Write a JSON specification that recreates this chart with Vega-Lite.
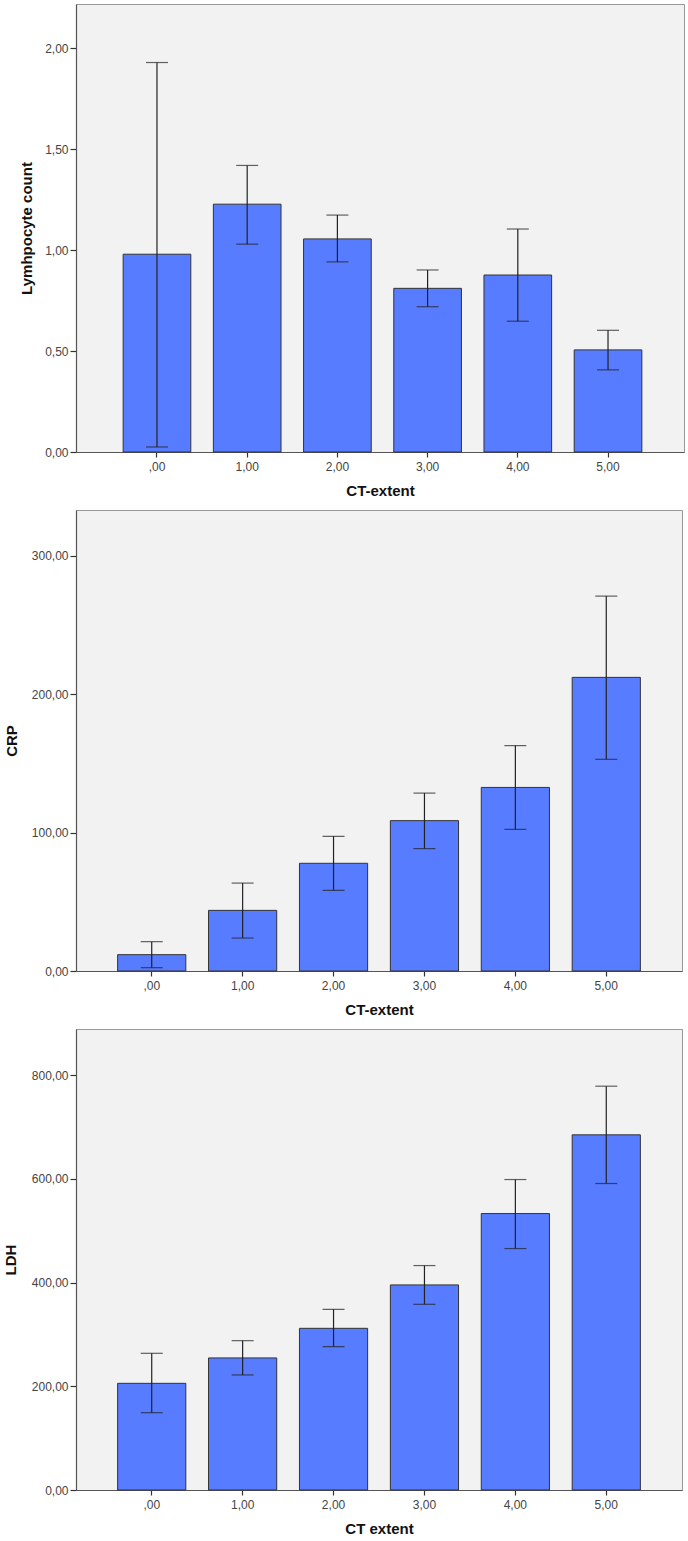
{
  "$schema": "https://vega.github.io/schema/vega-lite/v6.json",
  "padding": {"left": 2, "top": 3, "right": 0, "bottom": 0},
  "background": "white",
  "spacing": 10,
  "config": {
    "view": {"fill": "#f2f2f2", "stroke": "#999999", "strokeWidth": 1},
    "axis": {
      "labelFont": "Liberation Sans", "labelFontSize": 12, "labelColor": "#444444",
      "titleFont": "Liberation Sans", "titleFontSize": 15, "titleFontWeight": "bold", "titleColor": "#111111",
      "domainColor": "#555555", "tickColor": "#333333", "grid": false, "domainWidth": 1.2, "tickWidth": 1.2
    },
    "axisX": {"labelAngle": 0, "tickSize": 5, "labelPadding": 4, "titlePadding": 11},
    "axisY": {"tickSize": 6, "labelPadding": 2}
  },
  "datasets": {
    "lym": [
      {"ct": ",00", "mean": 0.98, "lo": 0.025, "hi": 1.93},
      {"ct": "1,00", "mean": 1.228, "lo": 1.03, "hi": 1.42},
      {"ct": "2,00", "mean": 1.056, "lo": 0.942, "hi": 1.174},
      {"ct": "3,00", "mean": 0.811, "lo": 0.72, "hi": 0.902},
      {"ct": "4,00", "mean": 0.877, "lo": 0.648, "hi": 1.105},
      {"ct": "5,00", "mean": 0.506, "lo": 0.407, "hi": 0.603}
    ],
    "crp": [
      {"ct": ",00", "mean": 11.8, "lo": 2.4, "hi": 21.2},
      {"ct": "1,00", "mean": 43.8, "lo": 23.8, "hi": 63.5},
      {"ct": "2,00", "mean": 77.8, "lo": 58.3, "hi": 97.3},
      {"ct": "3,00", "mean": 108.6, "lo": 88.4, "hi": 128.5},
      {"ct": "4,00", "mean": 132.6, "lo": 102.3, "hi": 162.8},
      {"ct": "5,00", "mean": 212.1, "lo": 152.9, "hi": 270.8}
    ],
    "ldh": [
      {"ct": ",00", "mean": 205.7, "lo": 149.1, "hi": 263.6},
      {"ct": "1,00", "mean": 254.7, "lo": 221.9, "hi": 288},
      {"ct": "2,00", "mean": 311.8, "lo": 276.5, "hi": 348.5},
      {"ct": "3,00", "mean": 395.5, "lo": 358.1, "hi": 432.8},
      {"ct": "4,00", "mean": 533.1, "lo": 465.6, "hi": 598.7},
      {"ct": "5,00", "mean": 684.9, "lo": 591, "hi": 778.7}
    ]
  },
  "vconcat": [
    {
      "width": 608, "height": 448,
      "data": {"name": "lym"},
      "encoding": {
        "x": {"field": "ct", "type": "nominal", "sort": null, "title": "CT-extent",
              "scale": {"paddingInner": 0.25, "paddingOuter": 0.495, "align": 0.528}}
      },
      "layer": [
        {"mark": {"type": "bar", "color": "#587cff", "stroke": "#333333", "strokeWidth": 1},
         "encoding": {"y": {"field": "mean", "type": "quantitative", "title": "Lymhpocyte count",
           "scale": {"domain": [0, 2.22], "nice": false},
           "axis": {"values": [0, 0.5, 1, 1.5, 2], "labelExpr": "replace(format(datum.value, '.2f'), '.', ',')", "titlePadding": 10}}}},
        {"mark": {"type": "rule", "color": "#222222", "strokeWidth": 1.2},
         "encoding": {"y": {"field": "lo", "type": "quantitative", "title": "Lymhpocyte count"}, "y2": {"field": "hi"}}},
        {"mark": {"type": "tick", "color": "#222222", "size": 22, "thickness": 1.2},
         "encoding": {"y": {"field": "lo", "type": "quantitative", "title": "Lymhpocyte count"}}},
        {"mark": {"type": "tick", "color": "#222222", "size": 22, "thickness": 1.2},
         "encoding": {"y": {"field": "hi", "type": "quantitative", "title": "Lymhpocyte count"}}}
      ]
    },
    {
      "width": 606, "height": 461,
      "data": {"name": "crp"},
      "encoding": {
        "x": {"field": "ct", "type": "nominal", "sort": null, "title": "CT-extent",
              "scale": {"paddingInner": 0.25, "paddingOuter": 0.458, "align": 0.5}}
      },
      "layer": [
        {"mark": {"type": "bar", "color": "#587cff", "stroke": "#333333", "strokeWidth": 1},
         "encoding": {"y": {"field": "mean", "type": "quantitative", "title": "CRP",
           "scale": {"domain": [0, 333], "nice": false},
           "axis": {"values": [0, 100, 200, 300], "labelExpr": "replace(format(datum.value, '.2f'), '.', ',')", "titlePadding": 12}}}},
        {"mark": {"type": "rule", "color": "#222222", "strokeWidth": 1.2},
         "encoding": {"y": {"field": "lo", "type": "quantitative", "title": "CRP"}, "y2": {"field": "hi"}}},
        {"mark": {"type": "tick", "color": "#222222", "size": 22, "thickness": 1.2},
         "encoding": {"y": {"field": "lo", "type": "quantitative", "title": "CRP"}}},
        {"mark": {"type": "tick", "color": "#222222", "size": 22, "thickness": 1.2},
         "encoding": {"y": {"field": "hi", "type": "quantitative", "title": "CRP"}}}
      ]
    },
    {
      "width": 606, "height": 461,
      "data": {"name": "ldh"},
      "encoding": {
        "x": {"field": "ct", "type": "nominal", "sort": null, "title": "CT extent",
              "scale": {"paddingInner": 0.25, "paddingOuter": 0.458, "align": 0.5}}
      },
      "layer": [
        {"mark": {"type": "bar", "color": "#587cff", "stroke": "#333333", "strokeWidth": 1},
         "encoding": {"y": {"field": "mean", "type": "quantitative", "title": "LDH",
           "scale": {"domain": [0, 889], "nice": false},
           "axis": {"values": [0, 200, 400, 600, 800], "labelExpr": "replace(format(datum.value, '.2f'), '.', ',')", "titlePadding": 13}}}},
        {"mark": {"type": "rule", "color": "#222222", "strokeWidth": 1.2},
         "encoding": {"y": {"field": "lo", "type": "quantitative", "title": "LDH"}, "y2": {"field": "hi"}}},
        {"mark": {"type": "tick", "color": "#222222", "size": 22, "thickness": 1.2},
         "encoding": {"y": {"field": "lo", "type": "quantitative", "title": "LDH"}}},
        {"mark": {"type": "tick", "color": "#222222", "size": 22, "thickness": 1.2},
         "encoding": {"y": {"field": "hi", "type": "quantitative", "title": "LDH"}}}
      ]
    }
  ]
}
